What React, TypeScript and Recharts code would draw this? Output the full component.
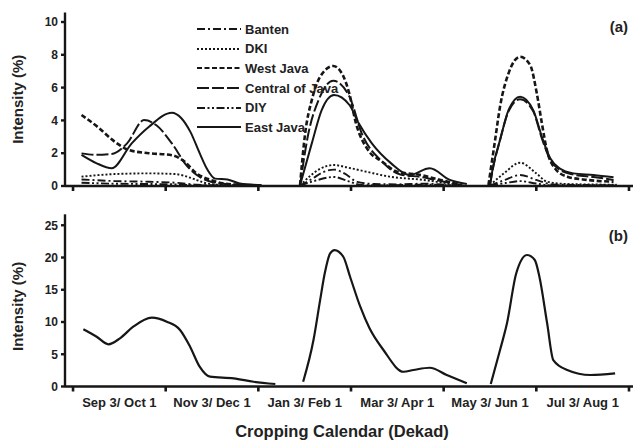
import { Legend, Line, LineChart, XAxis, YAxis } from "recharts";

type Pt = [number, number | null];

const INK = "#161616";
const FONT = '"Liberation Sans", Arial, Helvetica, sans-serif';

// x is measured in dekads: 0 = start of Sep 1, 36 = start of the next Sep 1
const dekadDomain: [number, number] = [-0.52, 36.26];
const boundaryTicks = [0, 6, 12, 18, 24, 30, 36];
const labelTicks = [3, 9, 15, 21, 27, 33];
const periodLabels = [
  "Sep 3/ Oct 1",
  "Nov 3/ Dec 1",
  "Jan 3/ Feb 1",
  "Mar 3/ Apr 1",
  "May 3/ Jun 1",
  "Jul 3/ Aug 1",
];
const provinceTicks = [0, 2, 4, 6, 8, 10];
const totalTicks = [0, 5, 10, 15, 20, 25];

// (a) intensity per province, three planting windows split by nulls
const banten: Pt[] = [
  [0.55, 0.4], [2.7, 0.3], [4.9, 0.26], [6.6, 0.2], [8.0, 0.08], [9.5, 0.03], [12.2, 0.02],
  [13.4, null],
  [14.7, 0.02], [15.5, 0.45], [16.2, 0.85], [16.9, 1.0], [17.6, 0.75], [18.4, 0.25], [19.5, 0.12],
  [21.0, 0.1], [22.7, 0.14], [24.5, 0.05], [25.3, 0.02],
  [26.2, null],
  [27.0, 0.02], [27.9, 0.35], [28.95, 0.67], [30.0, 0.37], [31.0, 0.1], [33.0, 0.06], [35.2, 0.05],
];
const dki: Pt[] = [
  [0.55, 0.57], [1.6, 0.66], [2.7, 0.73], [4.9, 0.77], [6.6, 0.73], [7.7, 0.47], [8.5, 0.2],
  [9.5, 0.07], [12.2, 0.03],
  [13.4, null],
  [14.7, 0.02], [15.3, 0.57], [16.0, 1.05], [16.9, 1.28], [17.8, 1.12], [19.0, 0.87], [20.5, 0.57],
  [22.7, 0.37], [24.3, 0.15], [25.3, 0.03],
  [26.2, null],
  [27.0, 0.05], [27.9, 0.77], [28.95, 1.42], [30.0, 0.77], [30.7, 0.26], [32.0, 0.12], [35.2, 0.08],
];
const westJava: Pt[] = [
  [0.55, 4.33], [1.6, 3.6], [2.7, 2.7], [3.6, 2.2], [4.9, 2.0], [6.4, 1.88], [7.2, 1.5], [8.0, 0.77],
  [8.9, 0.37], [9.7, 0.16], [11.0, 0.06], [12.2, 0.03],
  [13.4, null],
  [14.7, 0.05], [15.03, 3.2], [15.46, 5.24], [16.0, 6.66], [16.85, 7.32], [17.5, 6.7], [17.9, 5.6],
  [18.3, 3.9], [19.1, 2.2], [20.0, 1.5], [21.0, 0.87], [22.5, 0.67], [23.8, 0.37], [25.2, 0.05],
  [26.2, null],
  [26.9, 0.06], [27.33, 2.8], [27.65, 4.84], [28.2, 6.87], [28.95, 7.88], [29.6, 7.38], [30.03, 5.65],
  [30.36, 3.82], [30.68, 2.2], [31.2, 1.08], [32.0, 0.57], [33.3, 0.37], [35.0, 0.26],
];
const centralJava: Pt[] = [
  [0.55, 1.99], [1.5, 1.9], [2.5, 1.95], [3.5, 2.6], [4.6, 4.02], [5.4, 3.7], [6.4, 2.6], [7.4, 1.2],
  [8.3, 0.5], [9.2, 0.2], [10.5, 0.08], [12.2, 0.03],
  [13.4, null],
  [14.7, 0.05], [15.24, 3.2], [15.9, 5.24], [16.85, 6.42], [17.9, 5.45], [18.7, 3.2], [20.0, 1.5],
  [21.2, 0.7], [22.5, 0.55], [23.8, 0.3], [25.2, 0.05],
  [26.2, null],
  [27.0, 0.06], [27.2, 1.1], [27.65, 2.8], [28.2, 4.55], [28.95, 5.29], [29.8, 4.55], [30.36, 2.9],
  [30.9, 1.6], [31.5, 1.0], [32.4, 0.7], [33.7, 0.55], [35.0, 0.37],
];
const diy: Pt[] = [
  [0.55, 0.2], [2.7, 0.14], [4.9, 0.12], [6.6, 0.1], [8.0, 0.04], [12.2, 0.02],
  [13.4, null],
  [14.7, 0.02], [15.6, 0.3], [16.9, 0.55], [17.8, 0.3], [18.7, 0.06], [20.0, 0.04], [22.7, 0.08],
  [25.3, 0.02],
  [26.2, null],
  [27.0, 0.02], [28.0, 0.18], [28.95, 0.3], [30.0, 0.15], [31.0, 0.04], [35.2, 0.03],
];
const eastJava: Pt[] = [
  [0.55, 1.9], [1.5, 1.4], [2.5, 1.08], [3.8, 2.6], [4.9, 3.6], [6.4, 4.47], [7.0, 4.15], [7.6, 3.3],
  [8.2, 2.0], [8.7, 1.0], [9.2, 0.45], [10.0, 0.4], [10.8, 0.15], [12.2, 0.05],
  [13.4, null],
  [14.7, 0.05], [15.46, 2.6], [16.1, 4.63], [16.9, 5.55], [17.9, 4.94], [18.5, 3.82], [19.35, 2.6],
  [20.6, 1.38], [21.8, 0.67], [23.1, 1.08], [24.4, 0.37], [25.5, 0.12],
  [26.2, null],
  [27.0, 0.06], [27.2, 1.18], [27.65, 2.8], [28.2, 4.63], [28.95, 5.45], [29.8, 4.63], [30.36, 3.0],
  [30.9, 1.69], [31.5, 1.08], [32.4, 0.77], [33.7, 0.67], [35.0, 0.53],
];

// (b) overall intensity
const totalIntensity: Pt[] = [
  [0.67, 8.87], [1.53, 7.72], [2.29, 6.54], [3.04, 7.47], [3.9, 9.27], [5.1, 10.67], [6.07, 10.05],
  [6.93, 8.76], [7.58, 6.17], [8.2, 3.07], [8.87, 1.52], [10.4, 1.27], [11.7, 0.74], [13.1, 0.39],
  [14.0, null],
  [14.9, 0.74], [15.57, 7.2], [16.0, 13.4], [16.3, 17.55], [16.65, 20.65], [16.93, 21.16],
  [17.5, 20.12], [17.94, 17.02], [18.6, 12.37], [19.2, 9.02], [20.1, 5.66], [21.4, 2.29],
  [22.04, 2.56], [23.1, 2.91], [24.2, 1.78], [25.5, 0.5],
  [26.3, null],
  [27.05, 0.39], [27.65, 5.66], [28.1, 9.8], [28.7, 17.55], [29.4, 20.39], [29.9, 19.61],
  [30.2, 17.02], [30.7, 9.8], [31.1, 4.1], [32.0, 2.56], [33.5, 1.78], [35.1, 2.05],
];

const provinces = [
  { name: "Banten", points: banten, dash: "8 3 2 3", width: 1.9 },
  { name: "DKI", points: dki, dash: "2 2", width: 1.9 },
  { name: "West Java", points: westJava, dash: "5 2.5", width: 2.6 },
  { name: "Central of Java", points: centralJava, dash: "12 3", width: 2 },
  { name: "DIY", points: diy, dash: "8 2.5 2 2.5 2 2.5", width: 1.9 },
  { name: "East Java", points: eastJava, dash: undefined, width: 2 },
];

const toRows = (pts: Pt[]) => pts.map(([d, v]) => ({ d, v }));

const axisLine = { stroke: INK, strokeWidth: 2.4 };
const tickText = { fontFamily: FONT, fontWeight: 700, fontSize: 12, fill: "#222" };

const DekadTick = (props: any) => {
  const { x, y, payload, showLabel } = props;
  const v = payload.value;
  if (boundaryTicks.includes(v)) {
    return <line x1={x} x2={x} y1={y} y2={y + 5} stroke={INK} strokeWidth={2.6} />;
  }
  if (!showLabel) return null;
  return (
    <text x={x} y={y + 20.5} textAnchor="middle" style={{ ...tickText, fontSize: 13 }}>
      {periodLabels[labelTicks.indexOf(v)]}
    </text>
  );
};

const yTitle = (dy: number) => ({
  value: "Intensity (%)",
  angle: -90,
  position: "center" as const,
  dx: -14.5,
  dy,
  style: { fontFamily: FONT, fontWeight: 700, fontSize: 15, fill: "#222" },
});

const LegendBox = () => (
  <div style={{ fontFamily: FONT, fontWeight: 700, fontSize: 13, color: "#222" }}>
    {provinces.map((p) => (
      <div key={p.name} style={{ display: "flex", alignItems: "center", height: 19.6 }}>
        <svg width={46} height={8} style={{ marginRight: 3 }}>
          <line x1={1} x2={45} y1={4} y2={4} stroke={INK} strokeWidth={2} strokeDasharray={p.dash} />
        </svg>
        <span style={{ whiteSpace: "nowrap" }}>{p.name}</span>
      </div>
    ))}
  </div>
);

const FrameAxes = ({ domain }: { domain: [number, number] }) => null;

export default function App() {
  return (
    <div style={{ position: "absolute", left: 0, top: 0, width: 642, height: 448, background: "#fff" }}>
      <LineChart width={642} height={200} margin={{ top: 12.5, right: 9, bottom: 0, left: 0 }}>
        <XAxis
          dataKey="d"
          type="number"
          domain={dekadDomain}
          ticks={[...boundaryTicks]}
          allowDataOverflow
          height={14}
          tickSize={0}
          tickMargin={0}
          tickLine={false}
          axisLine={axisLine}
          tick={<DekadTick showLabel={false} />}
          interval={0}
        />
        <XAxis xAxisId="top" orientation="top" type="number" domain={dekadDomain} height={0} tick={false} tickLine={false} axisLine={axisLine} />
        <YAxis
          type="number"
          domain={[0, 10.58]}
          ticks={provinceTicks}
          allowDataOverflow
          width={65}
          tickSize={4}
          tickMargin={3}
          tickLine={{ stroke: INK, strokeWidth: 2.4 }}
          axisLine={axisLine}
          tick={tickText}
          interval={0}
          label={yTitle(0)}
        />
        <YAxis yAxisId="right" orientation="right" width={0} tick={false} tickLine={false} axisLine={axisLine} />
        <Legend
          layout="vertical"
          align="center"
          verticalAlign="middle"
          content={<LegendBox />}
          wrapperStyle={{ left: 196, top: 19.5, right: "auto", bottom: "auto", width: 160 }}
        />
        {provinces.map((p) => (
          <Line
            key={p.name}
            name={p.name}
            data={toRows(p.points)}
            dataKey="v"
            type="monotone"
            stroke={INK}
            strokeWidth={p.width}
            strokeDasharray={p.dash}
            dot={false}
            activeDot={false}
            connectNulls={false}
            isAnimationActive={false}
          />
        ))}
        <text x={628} y={32} textAnchor="end" style={{ fontFamily: FONT, fontWeight: 700, fontSize: 15, fill: "#222" }}>
          (a)
        </text>
      </LineChart>

      <LineChart width={642} height={248} margin={{ top: 14.3, right: 9, bottom: 0, left: 0 }}>
        <XAxis
          dataKey="d"
          type="number"
          domain={dekadDomain}
          ticks={[0, 3, 6, 9, 12, 15, 18, 21, 24, 27, 30, 33, 36]}
          allowDataOverflow
          height={61.5}
          tickSize={0}
          tickMargin={0}
          tickLine={false}
          axisLine={axisLine}
          tick={<DekadTick showLabel />}
          interval={0}
          label={{
            value: "Cropping Calendar (Dekad)",
            position: "insideBottom",
            offset: 11,
            dx: -7,
            style: { fontFamily: FONT, fontWeight: 700, fontSize: 16.5, fill: "#222" },
          }}
        />
        <XAxis xAxisId="top" orientation="top" type="number" domain={dekadDomain} height={0} tick={false} tickLine={false} axisLine={axisLine} />
        <YAxis
          type="number"
          domain={[0, 26.7]}
          ticks={totalTicks}
          allowDataOverflow
          width={65}
          tickSize={4}
          tickMargin={3}
          tickLine={{ stroke: INK, strokeWidth: 2.4 }}
          axisLine={axisLine}
          tick={tickText}
          interval={0}
          label={yTitle(6)}
        />
        <YAxis yAxisId="right" orientation="right" width={0} tick={false} tickLine={false} axisLine={axisLine} />
        <Line
          name="Total"
          data={toRows(totalIntensity)}
          dataKey="v"
          type="monotone"
          stroke={INK}
          strokeWidth={2.2}
          dot={false}
          activeDot={false}
          connectNulls={false}
          isAnimationActive={false}
        />
        <text x={628} y={41} textAnchor="end" style={{ fontFamily: FONT, fontWeight: 700, fontSize: 15, fill: "#222" }}>
          (b)
        </text>
      </LineChart>
    </div>
  );
}
